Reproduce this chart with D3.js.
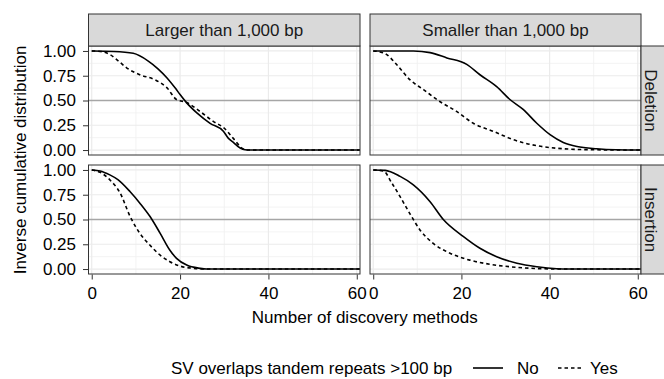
<!DOCTYPE html>
<html><head><meta charset="utf-8">
<script src="https://cdn.jsdelivr.net/npm/d3@7"></script>
<style>body{margin:0;background:#fff}svg{display:block}text{font-family:"Liberation Sans",Arial,Helvetica,sans-serif}</style>
</head><body><svg id="c" width="664" height="379"></svg>
<script>
const colLabels = ["Larger than 1,000 bp", "Smaller than 1,000 bp"];
const rowLabels = ["Deletion", "Insertion"];
const seriesNames = ["No", "Yes"];
const xTicks = [0, 20, 40, 60];
const yTicks = [0, 0.25, 0.5, 0.75, 1];
const yTickLabels = ["0.00", "0.25", "0.50", "0.75", "1.00"];

// Deletion, larger than 1,000 bp
const delLargeNoX = [0, 5, 9.4, 12.8, 15, 17, 19, 20, 21.5, 23.8, 26.8, 29.8, 30.9, 32, 33.6, 34.7, 36, 61];
const delLargeNoY = [1, 0.995, 0.976, 0.898, 0.82, 0.73, 0.62, 0.56, 0.476, 0.375, 0.27, 0.19, 0.12, 0.08, 0.02, 0.003, 0, 0];
const delLargeYesX = [0, 2, 4.1, 6, 7.9, 10.9, 14.3, 17, 19.2, 21.5, 24.5, 27.5, 30, 32, 34, 35, 61];
const delLargeYesY = [1, 0.995, 0.965, 0.9, 0.83, 0.76, 0.71, 0.63, 0.51, 0.48, 0.39, 0.29, 0.22, 0.12, 0.02, 0, 0];
// Deletion, smaller than 1,000 bp
const delSmallNoX = [0, 9.1, 12.9, 16.7, 21.2, 24.2, 28, 31, 34, 37.1, 40.1, 43.1, 46.2, 50.7, 55, 61];
const delSmallNoY = [1, 0.999, 0.983, 0.93, 0.864, 0.76, 0.64, 0.51, 0.41, 0.27, 0.155, 0.077, 0.036, 0.013, 0.003, 0];
const delSmallYesX = [0, 1.5, 3, 5.3, 8.3, 11.4, 15.1, 18.9, 22.7, 27.2, 31.8, 37.1, 43.1, 50, 61];
const delSmallYesY = [1, 0.99, 0.965, 0.864, 0.71, 0.61, 0.49, 0.39, 0.27, 0.19, 0.104, 0.044, 0.013, 0.003, 0];
// Insertion, larger than 1,000 bp
const insLargeNoX = [0, 1.9, 4.1, 6, 8.7, 10.9, 13.2, 15.5, 17.7, 19.2, 21.5, 24.5, 26, 61];
const insLargeNoY = [1, 0.99, 0.95, 0.9, 0.78, 0.665, 0.53, 0.36, 0.19, 0.108, 0.04, 0.007, 0, 0];
const insLargeYesX = [0, 1.9, 4.1, 6.4, 8.7, 10.9, 13.2, 15.5, 17.7, 20, 23, 25, 61];
const insLargeYesY = [1, 0.976, 0.9, 0.77, 0.53, 0.36, 0.24, 0.14, 0.074, 0.03, 0.007, 0, 0];
// Insertion, smaller than 1,000 bp
const insSmallNoX = [0, 2.7, 6.1, 9.1, 12.9, 15.9, 20.4, 24.2, 28, 32.6, 37.1, 41.6, 44.3, 61];
const insSmallNoY = [1, 0.996, 0.935, 0.85, 0.68, 0.5, 0.33, 0.21, 0.125, 0.058, 0.023, 0.003, 0, 0];
const insSmallYesX = [0, 2.3, 4.2, 6.1, 8.3, 10.6, 13.6, 17.4, 21.9, 26.5, 32.6, 38.6, 45, 61];
const insSmallYesY = [1, 0.99, 0.87, 0.73, 0.56, 0.395, 0.26, 0.16, 0.09, 0.048, 0.017, 0.003, 0, 0];

const panels = [
  {r:0, c:0, no:[delLargeNoX, delLargeNoY], yes:[delLargeYesX, delLargeYesY]},
  {r:0, c:1, no:[delSmallNoX, delSmallNoY], yes:[delSmallYesX, delSmallYesY]},
  {r:1, c:0, no:[insLargeNoX, insLargeNoY], yes:[insLargeYesX, insLargeYesY]},
  {r:1, c:1, no:[insSmallNoX, insSmallNoY], yes:[insSmallYesX, insSmallYesY]}
];

const svg = d3.select("#c");
const colX = [[88.5, 360], [370, 641]];
const rowY = [[46, 155], [165, 274]];
const stripTop = [14, 46];
const stripRight = [641, 670];
const border = "#333";
const fs = 17;
const ff = '"Liberation Sans",Arial,sans-serif';

const xScales = colX.map(r => d3.scaleLinear().domain([-0.73, 60.73]).range(r));
const yScales = rowY.map(r => d3.scaleLinear().domain([-0.05, 1.05]).range([r[1], r[0]]));

const defs = svg.append("defs");
panels.forEach((p, i) => {
  defs.append("clipPath").attr("id", "clip" + i).append("rect")
    .attr("x", colX[p.c][0]).attr("y", rowY[p.r][0])
    .attr("width", colX[p.c][1] - colX[p.c][0]).attr("height", rowY[p.r][1] - rowY[p.r][0]);
});

panels.forEach((p, i) => {
  const x = xScales[p.c], y = yScales[p.r];
  const g = svg.append("g");
  const [x0, x1] = colX[p.c], [y0, y1] = rowY[p.r];
  g.append("rect").attr("x", x0).attr("y", y0).attr("width", x1 - x0).attr("height", y1 - y0).attr("fill", "#fff");
  [10, 30, 50].forEach(v => g.append("line").attr("x1", x(v)).attr("x2", x(v)).attr("y1", y0).attr("y2", y1).attr("stroke", "#f0f0f0").attr("stroke-width", 0.8));
  [0.125, 0.375, 0.625, 0.875].forEach(v => g.append("line").attr("y1", y(v)).attr("y2", y(v)).attr("x1", x0).attr("x2", x1).attr("stroke", "#f0f0f0").attr("stroke-width", 0.8));
  xTicks.forEach(v => g.append("line").attr("x1", x(v)).attr("x2", x(v)).attr("y1", y0).attr("y2", y1).attr("stroke", "#ebebeb").attr("stroke-width", 1.2));
  yTicks.forEach(v => g.append("line").attr("y1", y(v)).attr("y2", y(v)).attr("x1", x0).attr("x2", x1).attr("stroke", "#ebebeb").attr("stroke-width", 1.2));
  g.append("line").attr("y1", y(0.5)).attr("y2", y(0.5)).attr("x1", x0).attr("x2", x1).attr("stroke", "#a6a6a6").attr("stroke-width", 1.5);
  const line = d3.line().x(d => x(d[0])).y(d => y(d[1])).curve(d3.curveMonotoneX);
  const lg = g.append("g").attr("clip-path", "url(#clip" + i + ")");
  [["no", null], ["yes", "3.5,3"]].forEach(([k, dash]) => {
    const pts = p[k][0].map((xv, j) => [xv, p[k][1][j]]);
    lg.append("path").attr("d", line(pts)).attr("fill", "none").attr("stroke", "#000")
      .attr("stroke-width", 1.6).attr("stroke-dasharray", dash);
  });
  g.append("rect").attr("x", x0).attr("y", y0).attr("width", x1 - x0).attr("height", y1 - y0)
    .attr("fill", "none").attr("stroke", border).attr("stroke-width", 1);
  if (p.c === 0) {
    const ax = svg.append("g").attr("transform", `translate(${x0 - 0.5},0)`)
      .call(d3.axisLeft(y).tickValues(yTicks).tickFormat((d, j) => yTickLabels[j]).tickSize(5).tickPadding(7));
    ax.select(".domain").remove();
    ax.selectAll("line").attr("stroke", border);
    ax.selectAll("text").attr("font-size", fs).attr("fill", "#000").attr("font-family", ff);
  }
  if (p.r === 1) {
    const ax = svg.append("g").attr("transform", `translate(0,${y1 + 0.5})`)
      .call(d3.axisBottom(x).tickValues(xTicks).tickSize(5).tickPadding(7));
    ax.select(".domain").remove();
    ax.selectAll("line").attr("stroke", border);
    ax.selectAll("text").attr("font-size", fs).attr("fill", "#000").attr("font-family", ff);
  }
});

colLabels.forEach((lab, c) => {
  const [x0, x1] = colX[c];
  svg.append("rect").attr("x", x0).attr("y", stripTop[0]).attr("width", x1 - x0).attr("height", stripTop[1] - stripTop[0])
    .attr("fill", "#d9d9d9").attr("stroke", border).attr("stroke-width", 1);
  svg.append("text").attr("x", (x0 + x1) / 2).attr("y", (stripTop[0] + stripTop[1]) / 2).attr("dy", "0.35em")
    .attr("text-anchor", "middle").attr("font-size", fs).attr("fill", "#1a1a1a").text(lab);
});
rowLabels.forEach((lab, r) => {
  const [y0, y1] = rowY[r];
  svg.append("rect").attr("x", stripRight[0]).attr("y", y0).attr("width", stripRight[1] - stripRight[0]).attr("height", y1 - y0)
    .attr("fill", "#d9d9d9").attr("stroke", border).attr("stroke-width", 1);
  const cx = 651, cy = (y0 + y1) / 2;
  svg.append("text").attr("transform", `translate(${cx},${cy}) rotate(90)`).attr("dy", "0.35em")
    .attr("text-anchor", "middle").attr("font-size", fs).attr("fill", "#1a1a1a").text(lab);
});

svg.append("text").attr("x", (colX[0][0] + colX[1][1]) / 2).attr("y", 317).attr("dy", "0.35em")
  .attr("text-anchor", "middle").attr("font-size", fs).text("Number of discovery methods");
svg.append("text").attr("transform", `translate(20,${(rowY[0][0] + rowY[1][1]) / 2}) rotate(-90)`).attr("dy", "0.35em")
  .attr("text-anchor", "middle").attr("font-size", fs).text("Inverse cumulative distribution");

const ly = 368;
svg.append("text").attr("x", 171).attr("y", ly).attr("dy", "0.35em").attr("font-size", fs).text("SV overlaps tandem repeats >100 bp");
const legendItems = [
  {name: seriesNames[0], x0: 473, x1: 503, tx: 517, dash: null},
  {name: seriesNames[1], x0: 558, x1: 583, tx: 590, dash: "3.5,3"}
];
legendItems.forEach(it => {
  svg.append("line").attr("x1", it.x0).attr("x2", it.x1).attr("y1", ly).attr("y2", ly)
    .attr("stroke", "#000").attr("stroke-width", 1.6).attr("stroke-dasharray", it.dash);
  svg.append("text").attr("x", it.tx).attr("y", ly).attr("dy", "0.35em").attr("font-size", fs).text(it.name);
});
</script></body></html>
